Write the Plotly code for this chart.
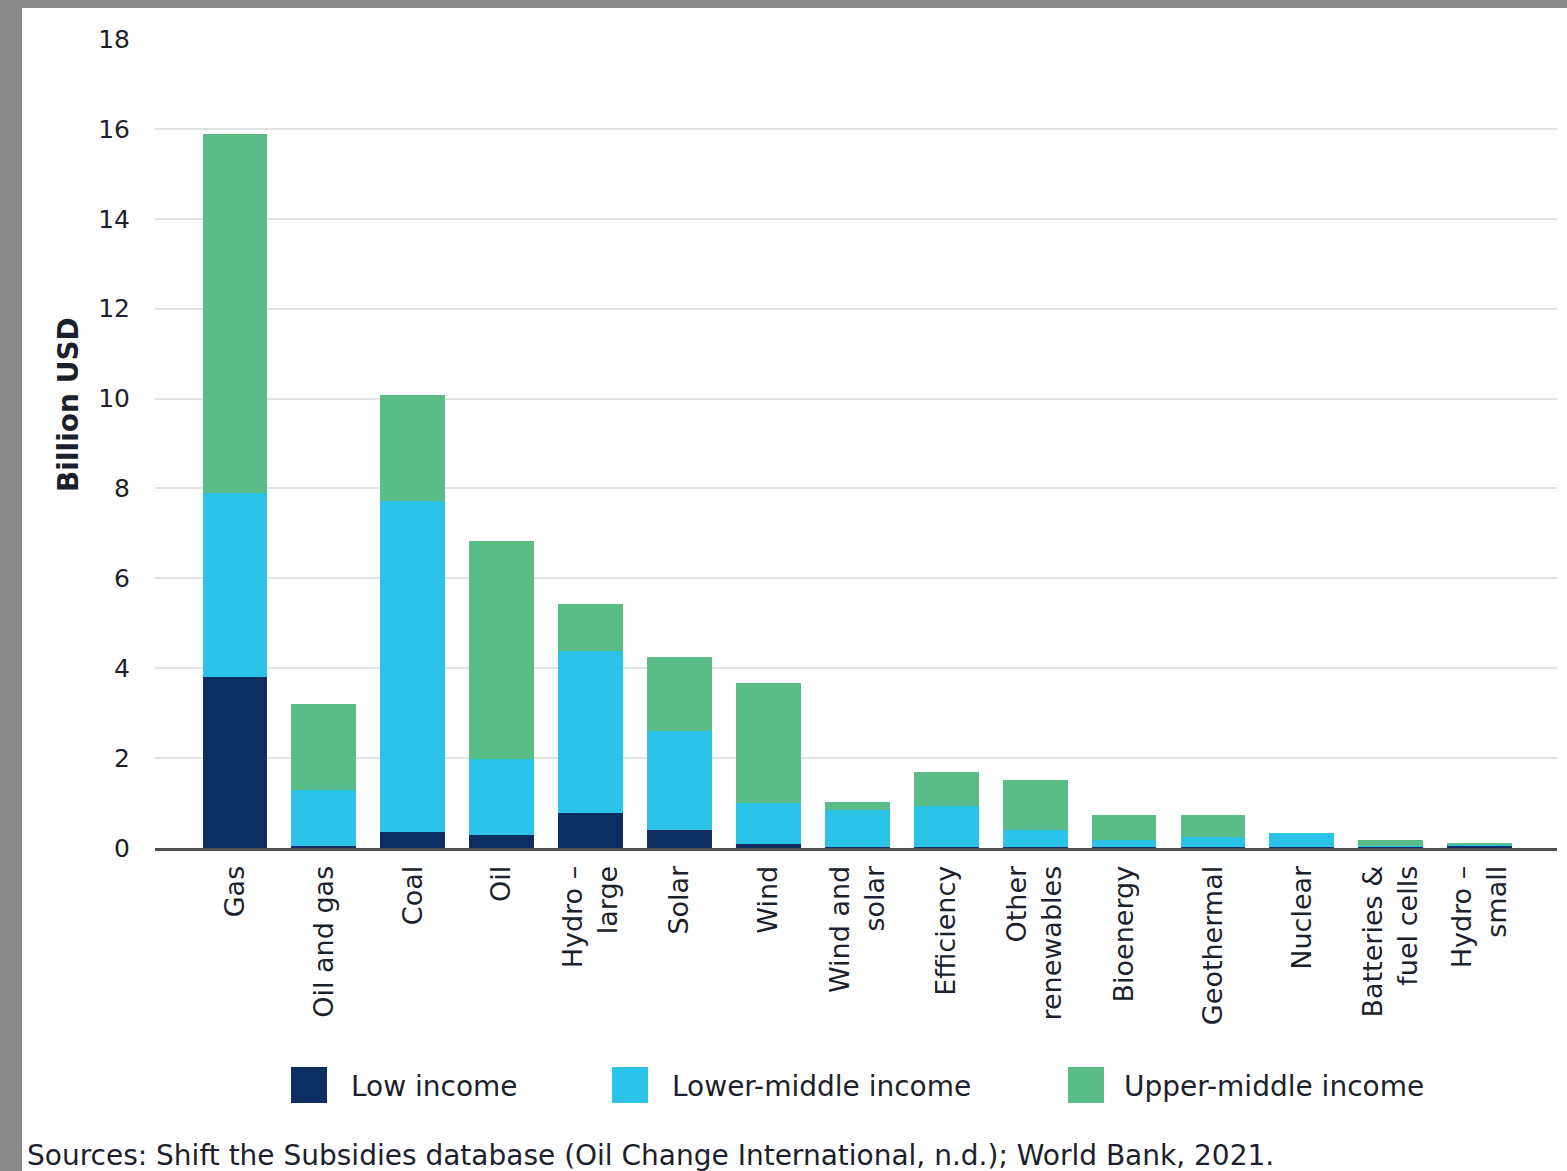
import plotly.graph_objects as go

categories = ["Gas", "Oil and gas", "Coal", "Oil", "Hydro –<br>large", "Solar", "Wind",
              "Wind and<br>solar", "Efficiency", "Other<br>renewables", "Bioenergy",
              "Geothermal", "Nuclear", "Batteries &<br>fuel cells", "Hydro –<br>small"]
low_income = [3.8, 0.05, 0.36, 0.3, 0.78, 0.4, 0.1, 0.03, 0.03, 0.03, 0.03, 0.03, 0.03, 0.03, 0.06]
lower_middle = [4.09, 1.24, 7.35, 1.68, 3.6, 2.2, 0.9, 0.81, 0.91, 0.37, 0.15, 0.21, 0.3, 0.02, 0.02]
upper_middle = [8.0, 1.91, 2.36, 4.86, 1.04, 1.64, 2.67, 0.18, 0.75, 1.11, 0.55, 0.49, 0.0, 0.13, 0.04]
series_names = ["Low income", "Lower-middle income", "Upper-middle income"]
colors = ["#0c2e61", "#2cc3e9", "#5abd88"]
y_ticks = [0, 2, 4, 6, 8, 10, 12, 14, 16, 18]
source_text = "Sources: Shift the Subsidies database (Oil Change International, n.d.); World Bank, 2021."

W, H = 1567, 1171
L, R, T, B = 155, 10, 39, 323
pw, ph = W - L - R, H - T - B

def px_x(p):
    return (p - L) / pw

def px_y(q):
    return (H - B - q) / ph

FONT = "DejaVu Sans"
TXT = "#1c1f2e"

fig = go.Figure()
for name, vals, col in zip(series_names, [low_income, lower_middle, upper_middle], colors):
    fig.add_trace(go.Bar(x=categories, y=vals, name=name, marker=dict(color=col, line=dict(width=0)),
                         width=0.73, showlegend=False))

shapes = []
# gray border strips
shapes.append(dict(type="rect", xref="paper", yref="paper", x0=px_x(0), x1=px_x(22),
                   y0=px_y(0), y1=px_y(H), fillcolor="#8a8a8a", line=dict(width=0), layer="below"))
shapes.append(dict(type="rect", xref="paper", yref="paper", x0=px_x(0), x1=px_x(W),
                   y0=px_y(0), y1=px_y(8), fillcolor="#8a8a8a", line=dict(width=0), layer="below"))

annotations = []
# manual legend
leg_sq = [291, 612, 1068]
leg_tx = [349, 670, 1122]
for name, col, sx, tx in zip(series_names, colors, leg_sq, leg_tx):
    shapes.append(dict(type="rect", xref="paper", yref="paper", x0=px_x(sx), x1=px_x(sx + 36),
                       y0=px_y(1067), y1=px_y(1103), fillcolor=col, line=dict(width=0)))
    annotations.append(dict(text=name, xref="paper", yref="paper", x=px_x(tx), y=px_y(1086),
                            xanchor="left", yanchor="middle", showarrow=False,
                            font=dict(family=FONT, size=28, color=TXT)))

annotations.append(dict(text="<b>Billion USD</b>", xref="paper", yref="paper", x=px_x(68), y=px_y(405),
                        textangle=-90, showarrow=False, xanchor="center", yanchor="middle",
                        font=dict(family=FONT, size=28, color=TXT)))
annotations.append(dict(text=source_text, xref="paper", yref="paper", x=px_x(25), y=px_y(1155),
                        xanchor="left", yanchor="middle", showarrow=False,
                        font=dict(family=FONT, size=28, color=TXT)))

fig.update_layout(
    width=W, height=H, barmode="stack",
    margin=dict(l=L, r=R, t=T, b=B, pad=0),
    paper_bgcolor="white", plot_bgcolor="white",
    shapes=shapes, annotations=annotations,
    bargap=0.27,
)
fig.update_xaxes(range=[-0.9, 14.87], tickangle=-90, showgrid=False,
                 showline=True, linecolor="#4f4f4f", linewidth=3, ticks="",
                 ticklabelstandoff=4,
                 tickfont=dict(family=FONT, size=27, color=TXT))
fig.update_yaxes(range=[0, 18], tickvals=y_ticks, showgrid=True, gridcolor="#e2e2e2", gridwidth=2,
                 zeroline=False, showline=False, ticks="", ticklabelstandoff=24,
                 tickfont=dict(family=FONT, size=25, color=TXT))

fig.write_html("out.html", config={"displayModeBar": False},
               post_script="document.body.style.margin='0';document.body.style.padding='0';"
                           "document.body.style.overflow='hidden';")
